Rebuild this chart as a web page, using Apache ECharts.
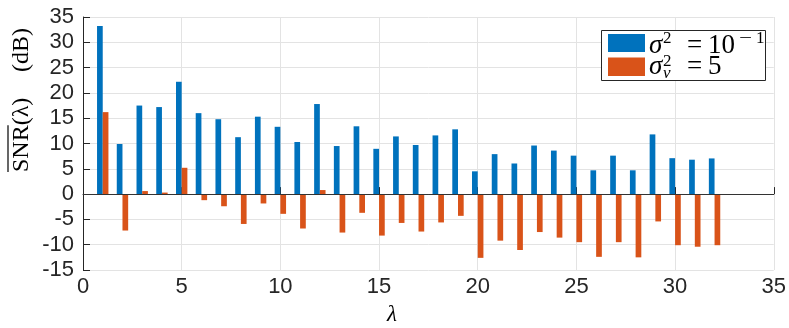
<!DOCTYPE html>
<html>
<head>
<meta charset="utf-8">
<script src="https://cdn.jsdelivr.net/npm/echarts@6/dist/echarts.min.js"></script>
<style>html,body{margin:0;padding:0;background:#fff;}#c{width:789px;height:328px;}</style>
</head>
<body>
<div id="c"></div>
<script>
const lambdas = [1,2,3,4,5,6,7,8,9,10,11,12,13,14,15,16,17,18,19,20,21,22,23,24,25,26,27,28,29,30,31,32];
const snrBlue = [33.2,9.9,17.5,17.2,22.2,16.0,14.8,11.25,15.3,13.3,10.3,17.8,9.5,13.4,8.95,11.4,9.7,11.6,12.8,4.5,7.9,6.05,9.6,8.6,7.6,4.7,7.6,4.7,11.8,7.1,6.8,7.05];
const snrOrange = [16.2,-7.2,0.6,0.3,5.2,-1.2,-2.4,-5.9,-1.85,-3.9,-6.8,0.8,-7.6,-3.7,-8.2,-5.7,-7.4,-5.6,-4.3,-12.6,-9.2,-11.05,-7.5,-8.6,-9.5,-12.4,-9.5,-12.5,-5.4,-10.1,-10.4,-10.1];
const xTicks = [0,5,10,15,20,25,30,35];
const yTicks = [-15,-10,-5,0,5,10,15,20,25,30,35];
const seriesNames = ['σ² = 10⁻¹','σᵥ² = 5'];
const colors = ['#0072BD','#D95319'];

const chart = echarts.init(document.getElementById('c'));
const axisCol = '#262626';
const tickFont = {fontFamily:'Liberation Sans', fontSize:22, color:axisCol};
const serif = 'Liberation Serif';
const yFont = 24;
const ctx = document.createElement('canvas').getContext('2d');
ctx.font = yFont + 'px "' + serif + '"';
const snrW = ctx.measureText('SNR').width;
const yBottom = 172, yBase = 34;

function t(txt, x, y, size, italic, extra){
  return Object.assign({type:'text', x:x, y:y, z:101, style:{text:txt, fontFamily:serif, fontSize:size,
    fontStyle: italic ? 'italic' : 'normal', fill:'#000', align:'left', verticalAlign:'middle'}}, extra||{});
}
const legendGraphic = [
  {type:'rect', z:100, shape:{x:601.5, y:30.5, width:164, height:50}, style:{fill:'#fff', stroke:axisCol, lineWidth:1}},
  {type:'rect', z:101, shape:{x:608, y:34, width:37, height:18}, style:{fill:colors[0]}},
  {type:'rect', z:101, shape:{x:608, y:57.5, width:37, height:18.5}, style:{fill:colors[1]}},
  t('σ', 649, 45.5, 27, true),
  t('2', 663, 38.5, 17, false),
  t('=', 687, 45.5, 27, false),
  t('10', 708, 45.5, 27, false),
  t('−', 739, 38.5, 17, false, {scaleX:1.35}),
  t('1', 756, 38.5, 17, false),
  t('σ', 649, 66.5, 27, true),
  t('2', 663, 61.5, 17, false),
  t('v', 663, 73.5, 17, true),
  t('=', 687, 66.5, 27, false),
  t('5', 708, 66.5, 27, false)
];

chart.setOption({
  animation:false,
  grid:{left:83, right:12, top:17, bottom:58, containLabel:false},
  legend:{show:false, data:seriesNames},
  xAxis:{type:'value', min:xTicks[0], max:xTicks[xTicks.length-1], interval:5,
    axisLine:{show:true, lineStyle:{color:axisCol, width:1}},
    axisTick:{show:true, inside:true, length:7, lineStyle:{color:axisCol}},
    axisLabel:Object.assign({margin:6}, tickFont),
    splitLine:{show:true, lineStyle:{color:'#e3e3e3', width:1}}},
  yAxis:{type:'value', min:yTicks[0], max:yTicks[yTicks.length-1], interval:5,
    axisLine:{show:true, lineStyle:{color:axisCol, width:1}},
    axisTick:{show:true, inside:true, length:7, lineStyle:{color:axisCol}},
    axisLabel:Object.assign({margin:9}, tickFont),
    splitLine:{show:true, lineStyle:{color:'#e3e3e3', width:1}}},
  graphic:[
    {type:'text', x:392, y:326, style:{text:'λ', fontFamily:serif, fontStyle:'italic', fontSize:23, fill:'#000', align:'center', verticalAlign:'bottom'}},
    {type:'text', x:yBase, y:yBottom, rotation:Math.PI/2, style:{text:'SNR(λ)', fontFamily:serif, fontSize:yFont, fill:'#000', align:'left', verticalAlign:'bottom'}},
    {type:'text', x:yBase, y:28, rotation:Math.PI/2, style:{text:'(dB)', fontFamily:serif, fontSize:yFont, fill:'#000', align:'right', verticalAlign:'bottom'}},
    {type:'line', shape:{x1:8, y1:yBottom, x2:8, y2:yBottom - snrW}, style:{stroke:'#000', lineWidth:1.2}}
  ].concat(legendGraphic),
  series:[
    {name:seriesNames[0], type:'bar', barWidth:5.7, barGap:'0%', itemStyle:{color:colors[0]},
      data:lambdas.map((l,i)=>[l,snrBlue[i]]),
      markLine:{silent:true, symbol:'none', label:{show:false}, lineStyle:{color:'#333', width:1, type:'solid'}, data:[{yAxis:0}]}},
    {name:seriesNames[1], type:'bar', barWidth:5.7, barGap:'0%', itemStyle:{color:colors[1]},
      data:lambdas.map((l,i)=>[l,snrOrange[i]])}
  ]
});
</script>
</body>
</html>
